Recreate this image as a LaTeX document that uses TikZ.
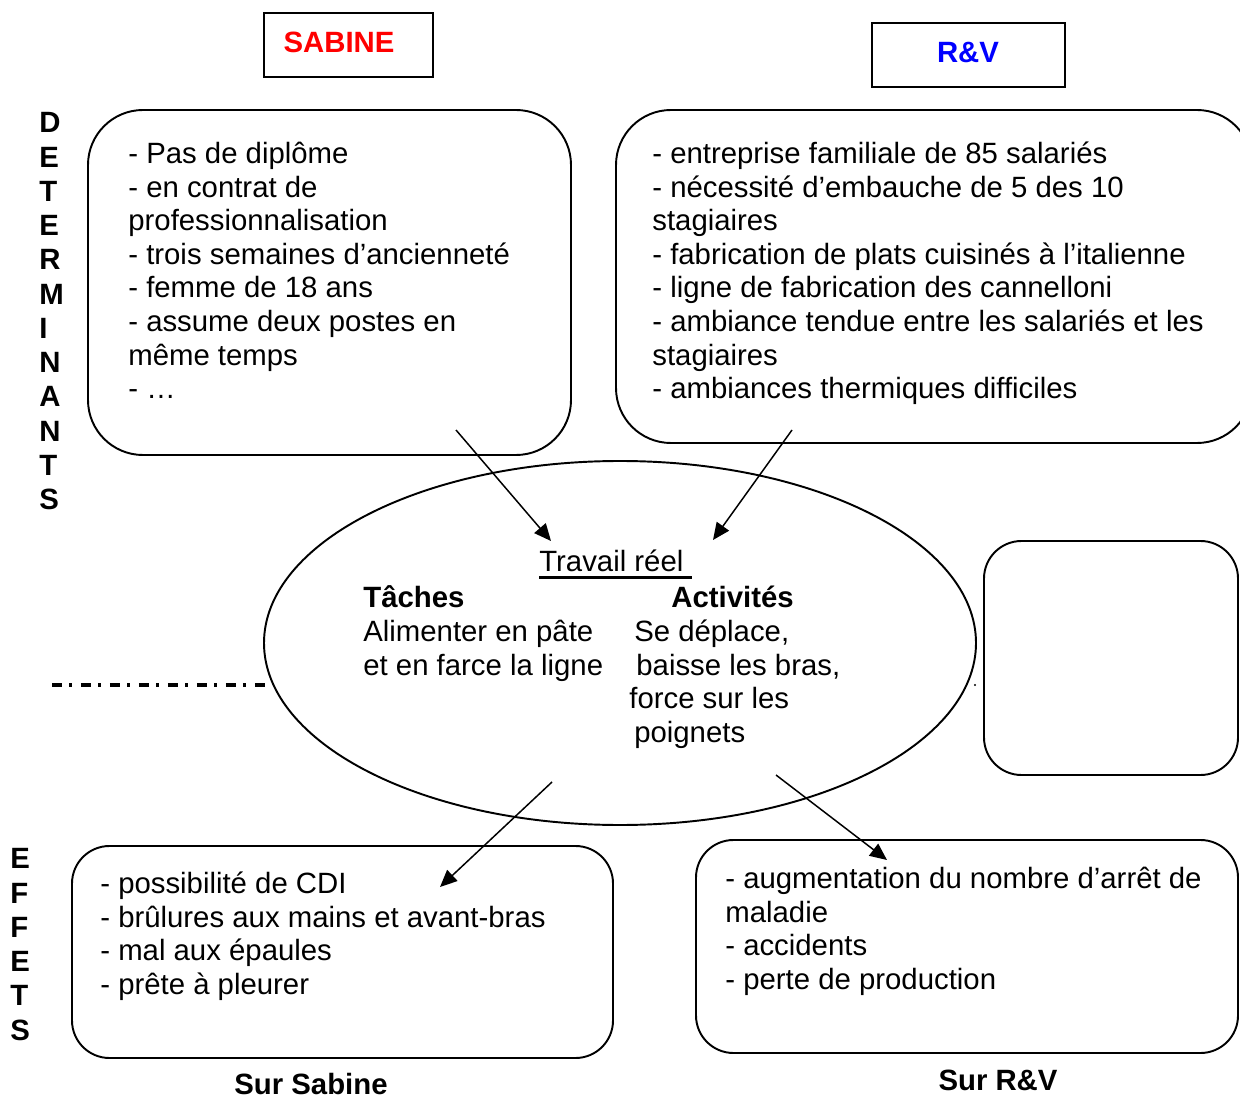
\documentclass[tikz,border=0pt]{standalone}
\usepackage{fontspec}
\setmainfont{Liberation Sans}
\usetikzlibrary{arrows.meta}
\newcommand{\ulx}[1]{\setbox0\hbox{#1}\rlap{\rule[-3.7pt]{\wd0}{1.5pt}}\box0}
\begin{document}
\begin{tikzpicture}[x=0.02cm,y=-0.02cm,
  txt/.style={anchor=north west, inner sep=0pt, align=left, font=\fontsize{16.7pt}{19.1pt}\selectfont},
  vert/.style={anchor=north west, inner sep=0pt, align=left, font=\fontsize{16.7pt}{19.5pt}\selectfont\bfseries},
  bold/.style={anchor=base west, inner sep=0pt, font=\fontsize{16.7pt}{19.1pt}\selectfont\bfseries},
  boldc/.style={anchor=base, inner sep=0pt, font=\fontsize{16.7pt}{19.1pt}\selectfont\bfseries},
  bigbox/.style={draw, line width=1.1pt, rounded corners=1.1cm},
  smallbox/.style={draw, line width=1.1pt, rounded corners=0.75cm},
  titlebox/.style={draw, line width=1.3pt},
  arr/.style={line width=0.85pt, -{Triangle[length=0.34cm,width=0.3cm]}}
]
\path[use as bounding box] (0,0) rectangle (1240,1097);
\clip (0,0) rectangle (1240,1097);

% title boxes
\draw[titlebox] (264,13) rectangle (433,77);
\node[boldc, text=red] (sabine) at (339,53) {SABINE};
\draw[titlebox] (872,23) rectangle (1065,87);
\node[boldc, text=blue] (rv) at (968,63) {R\&V};

% vertical words
\node[vert] (determinants) at (39,106) {\rule{0pt}{0.9em}D\\E\\T\\E\\R\\M\\I\\N\\A\\N\\T\\S};
\node[vert] (effets) at (10,842) {\rule{0pt}{0.9em}E\\F\\F\\E\\T\\S};

% top boxes
\draw[bigbox] (88,110) rectangle (571,455);
\node[txt] (sabinetxt) at (128,137) {\rule{0pt}{0.9em}- Pas de diplôme\\- en contrat de\\professionnalisation\\- trois semaines d’ancienneté\\- femme de 18 ans\\- assume deux postes en\\même temps\\- …};
\draw[bigbox] (616,110) rectangle (1252,443);
\node[txt] (rvtxt) at (652,137) {\rule{0pt}{0.9em}- entreprise familiale de 85 salariés\\- nécessité d’embauche de 5 des 10\\stagiaires\\- fabrication de plats cuisinés à l’italienne\\- ligne de fabrication des cannelloni\\- ambiance tendue entre les salariés et les\\stagiaires\\- ambiances thermiques difficiles};

% dash-dot line
\coordinate (dl) at (52,685);
\coordinate (dr) at (268,685);
\draw[line width=1.9pt, dash pattern=on 5.7pt off 4pt on 1.5pt off 5.3pt] (dl) -- (dr);
\fill (975,685) circle (1.2);

% ellipse
\draw[line width=1.1pt] (620,643) ellipse [x radius=356, y radius=182];
\node[anchor=base west, inner sep=0pt, font=\fontsize{16.7pt}{19.1pt}\selectfont] (travail) at (539,572) {\ulx{Travail réel\ }};
\node[bold] (taches) at (363,607) {Tâches};
\node[bold] (activites) at (671,607) {Activités};
\node[txt] (tachestxt) at (363,615) {\rule{0pt}{0.9em}Alimenter en pâte\\et en farce la ligne};
\node[txt] (activtxt) at (629,615) {\rule{0pt}{0.9em}\hspace*{2.8pt}Se déplace,\\\hspace*{4pt}baisse les bras,\\force sur les\\\hspace*{2.8pt}poignets};

% right empty box
\draw[smallbox] (984,541) rectangle (1238,775);

% bottom boxes
\draw[smallbox] (72,846) rectangle (613,1058);
\node[txt] (effsabine) at (100,867) {\rule{0pt}{0.9em}- possibilité de CDI\\- brûlures aux mains et avant-bras\\- mal aux épaules\\- prête à pleurer};
\draw[smallbox] (696,840) rectangle (1238,1053);
\node[txt] (effrv) at (725,862) {\rule{0pt}{0.9em}- augmentation du nombre d’arrêt de\\maladie\\- accidents\\- perte de production};

\node[boldc] (sursabine) at (311,1094) {Sur Sabine};
\node[boldc] (surrv) at (998,1090) {Sur R\&V};

% arrows
\coordinate (a1s) at (456,430); \coordinate (a1e) at (551,541);
\coordinate (a2s) at (792,430); \coordinate (a2e) at (713,540);
\coordinate (a3s) at (552,782); \coordinate (a3e) at (440,887);
\coordinate (a4s) at (776,775); \coordinate (a4e) at (887,860);
\draw[arr] (a1s) -- (a1e);
\draw[arr] (a2s) -- (a2e);
\draw[arr] (a3s) -- (a3e);
\draw[arr] (a4s) -- (a4e);
\end{tikzpicture}
\end{document}
